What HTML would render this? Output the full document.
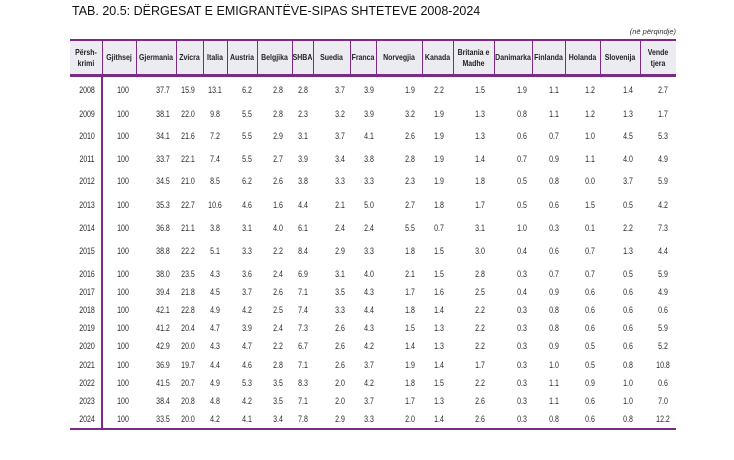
<!DOCTYPE html>
<html><head><meta charset="utf-8"><style>
body{margin:0;width:734px;height:460px;background:#fff;position:relative;overflow:hidden;font-family:"Liberation Sans",sans-serif;color:#222}
.t{position:absolute;left:72px;top:4px;font-size:12.5px;color:#111;white-space:nowrap}
.u{position:absolute;right:58px;top:27px;font-size:7.5px;font-style:italic;color:#333}
.hb{position:absolute;left:70px;top:39px;width:606px;height:38px;background:#ecebf1;border-top:2px solid #7b2a86;border-bottom:3px solid #7b2a86;box-sizing:border-box}
.vl{position:absolute;top:40px;height:35px;width:1px;background:#7b2a86}
.h{position:absolute;top:40px;height:35px;display:flex;align-items:center;justify-content:center;text-align:center;font-size:8.5px;font-weight:bold;line-height:11px;color:#222;transform:scaleX(.82);white-space:nowrap}
.yl{position:absolute;left:101px;top:77px;width:2px;height:352px;background:#7b2a86}
.bl{position:absolute;left:70px;top:428px;width:606px;height:2px;background:#7b2a86}
.r{position:absolute;left:0;width:734px;height:10px}
.r span{position:absolute;top:-1px;font-size:9px;line-height:11px;transform:translateX(-50%) scaleX(.78);white-space:nowrap;color:#2a2a2a}
.r span:nth-child(1){left:87px}.r span:nth-child(2){left:123px}.r span:nth-child(3){left:163px}.r span:nth-child(4){left:188px}
.r span:nth-child(5){left:215px}.r span:nth-child(6){left:247px}.r span:nth-child(7){left:278px}.r span:nth-child(8){left:303px}
.r span:nth-child(9){left:340px}.r span:nth-child(10){left:369px}.r span:nth-child(11){left:410px}.r span:nth-child(12){left:439px}
.r span:nth-child(13){left:480px}.r span:nth-child(14){left:522px}.r span:nth-child(15){left:554px}.r span:nth-child(16){left:590px}
.r span:nth-child(17){left:628px}.r span:nth-child(18){left:663px}
</style></head><body>
<div class="t">TAB. 20.5: DËRGESAT E EMIGRANTËVE-SIPAS SHTETEVE 2008-2024</div>
<div class="u">(në përqindje)</div>
<div class="hb"></div>
<div class="vl" style="left:102px"></div><div class="vl" style="left:136px"></div><div class="vl" style="left:176px"></div><div class="vl" style="left:203px"></div><div class="vl" style="left:227px"></div><div class="vl" style="left:257px"></div><div class="vl" style="left:292px"></div><div class="vl" style="left:313px"></div><div class="vl" style="left:350px"></div><div class="vl" style="left:376px"></div><div class="vl" style="left:422px"></div><div class="vl" style="left:453px"></div><div class="vl" style="left:494px"></div><div class="vl" style="left:532px"></div><div class="vl" style="left:565px"></div><div class="vl" style="left:600px"></div><div class="vl" style="left:640px"></div>
<div class="h" style="left:70px;width:32px">Përsh-<br>krimi</div>
<div class="h" style="left:102px;width:34px">Gjithsej</div>
<div class="h" style="left:136px;width:40px">Gjermania</div>
<div class="h" style="left:176px;width:27px">Zvicra</div>
<div class="h" style="left:203px;width:24px">Italia</div>
<div class="h" style="left:227px;width:30px">Austria</div>
<div class="h" style="left:257px;width:35px">Belgjika</div>
<div class="h" style="left:292px;width:21px">SHBA</div>
<div class="h" style="left:313px;width:37px">Suedia</div>
<div class="h" style="left:350px;width:26px">Franca</div>
<div class="h" style="left:376px;width:46px">Norvegjia</div>
<div class="h" style="left:422px;width:31px">Kanada</div>
<div class="h" style="left:453px;width:41px">Britania e<br>Madhe</div>
<div class="h" style="left:494px;width:38px">Danimarka</div>
<div class="h" style="left:532px;width:33px">Finlanda</div>
<div class="h" style="left:565px;width:35px">Holanda</div>
<div class="h" style="left:600px;width:40px">Slovenija</div>
<div class="h" style="left:640px;width:36px">Vende<br>tjera</div>
<div class="yl"></div>
<div class="bl"></div>
<div class="r" style="top:86px"><span>2008</span><span>100</span><span>37.7</span><span>15.9</span><span>13.1</span><span>6.2</span><span>2.8</span><span>2.8</span><span>3.7</span><span>3.9</span><span>1.9</span><span>2.2</span><span>1.5</span><span>1.9</span><span>1.1</span><span>1.2</span><span>1.4</span><span>2.7</span></div>
<div class="r" style="top:110px"><span>2009</span><span>100</span><span>38.1</span><span>22.0</span><span>9.8</span><span>5.5</span><span>2.8</span><span>2.3</span><span>3.2</span><span>3.9</span><span>3.2</span><span>1.9</span><span>1.3</span><span>0.8</span><span>1.1</span><span>1.2</span><span>1.3</span><span>1.7</span></div>
<div class="r" style="top:132px"><span>2010</span><span>100</span><span>34.1</span><span>21.6</span><span>7.2</span><span>5.5</span><span>2.9</span><span>3.1</span><span>3.7</span><span>4.1</span><span>2.6</span><span>1.9</span><span>1.3</span><span>0.6</span><span>0.7</span><span>1.0</span><span>4.5</span><span>5.3</span></div>
<div class="r" style="top:155px"><span>2011</span><span>100</span><span>33.7</span><span>22.1</span><span>7.4</span><span>5.5</span><span>2.7</span><span>3.9</span><span>3.4</span><span>3.8</span><span>2.8</span><span>1.9</span><span>1.4</span><span>0.7</span><span>0.9</span><span>1.1</span><span>4.0</span><span>4.9</span></div>
<div class="r" style="top:177px"><span>2012</span><span>100</span><span>34.5</span><span>21.0</span><span>8.5</span><span>6.2</span><span>2.6</span><span>3.8</span><span>3.3</span><span>3.3</span><span>2.3</span><span>1.9</span><span>1.8</span><span>0.5</span><span>0.8</span><span>0.0</span><span>3.7</span><span>5.9</span></div>
<div class="r" style="top:201px"><span>2013</span><span>100</span><span>35.3</span><span>22.7</span><span>10.6</span><span>4.6</span><span>1.6</span><span>4.4</span><span>2.1</span><span>5.0</span><span>2.7</span><span>1.8</span><span>1.7</span><span>0.5</span><span>0.6</span><span>1.5</span><span>0.5</span><span>4.2</span></div>
<div class="r" style="top:224px"><span>2014</span><span>100</span><span>36.8</span><span>21.1</span><span>3.8</span><span>3.1</span><span>4.0</span><span>6.1</span><span>2.4</span><span>2.4</span><span>5.5</span><span>0.7</span><span>3.1</span><span>1.0</span><span>0.3</span><span>0.1</span><span>2.2</span><span>7.3</span></div>
<div class="r" style="top:247px"><span>2015</span><span>100</span><span>38.8</span><span>22.2</span><span>5.1</span><span>3.3</span><span>2.2</span><span>8.4</span><span>2.9</span><span>3.3</span><span>1.8</span><span>1.5</span><span>3.0</span><span>0.4</span><span>0.6</span><span>0.7</span><span>1.3</span><span>4.4</span></div>
<div class="r" style="top:270px"><span>2016</span><span>100</span><span>38.0</span><span>23.5</span><span>4.3</span><span>3.6</span><span>2.4</span><span>6.9</span><span>3.1</span><span>4.0</span><span>2.1</span><span>1.5</span><span>2.8</span><span>0.3</span><span>0.7</span><span>0.7</span><span>0.5</span><span>5.9</span></div>
<div class="r" style="top:288px"><span>2017</span><span>100</span><span>39.4</span><span>21.8</span><span>4.5</span><span>3.7</span><span>2.6</span><span>7.1</span><span>3.5</span><span>4.3</span><span>1.7</span><span>1.6</span><span>2.5</span><span>0.4</span><span>0.9</span><span>0.6</span><span>0.6</span><span>4.9</span></div>
<div class="r" style="top:306px"><span>2018</span><span>100</span><span>42.1</span><span>22.8</span><span>4.9</span><span>4.2</span><span>2.5</span><span>7.4</span><span>3.3</span><span>4.4</span><span>1.8</span><span>1.4</span><span>2.2</span><span>0.3</span><span>0.8</span><span>0.6</span><span>0.6</span><span>0.6</span></div>
<div class="r" style="top:324px"><span>2019</span><span>100</span><span>41.2</span><span>20.4</span><span>4.7</span><span>3.9</span><span>2.4</span><span>7.3</span><span>2.6</span><span>4.3</span><span>1.5</span><span>1.3</span><span>2.2</span><span>0.3</span><span>0.8</span><span>0.6</span><span>0.6</span><span>5.9</span></div>
<div class="r" style="top:342px"><span>2020</span><span>100</span><span>42.9</span><span>20.0</span><span>4.3</span><span>4.7</span><span>2.2</span><span>6.7</span><span>2.6</span><span>4.2</span><span>1.4</span><span>1.3</span><span>2.2</span><span>0.3</span><span>0.9</span><span>0.5</span><span>0.6</span><span>5.2</span></div>
<div class="r" style="top:361px"><span>2021</span><span>100</span><span>36.9</span><span>19.7</span><span>4.4</span><span>4.6</span><span>2.8</span><span>7.1</span><span>2.6</span><span>3.7</span><span>1.9</span><span>1.4</span><span>1.7</span><span>0.3</span><span>1.0</span><span>0.5</span><span>0.8</span><span>10.8</span></div>
<div class="r" style="top:379px"><span>2022</span><span>100</span><span>41.5</span><span>20.7</span><span>4.9</span><span>5.3</span><span>3.5</span><span>8.3</span><span>2.0</span><span>4.2</span><span>1.8</span><span>1.5</span><span>2.2</span><span>0.3</span><span>1.1</span><span>0.9</span><span>1.0</span><span>0.6</span></div>
<div class="r" style="top:397px"><span>2023</span><span>100</span><span>38.4</span><span>20.8</span><span>4.8</span><span>4.2</span><span>3.5</span><span>7.1</span><span>2.0</span><span>3.7</span><span>1.7</span><span>1.3</span><span>2.6</span><span>0.3</span><span>1.1</span><span>0.6</span><span>1.0</span><span>7.0</span></div>
<div class="r" style="top:415px"><span>2024</span><span>100</span><span>33.5</span><span>20.0</span><span>4.2</span><span>4.1</span><span>3.4</span><span>7.8</span><span>2.9</span><span>3.3</span><span>2.0</span><span>1.4</span><span>2.6</span><span>0.3</span><span>0.8</span><span>0.6</span><span>0.8</span><span>12.2</span></div>
</body></html>
